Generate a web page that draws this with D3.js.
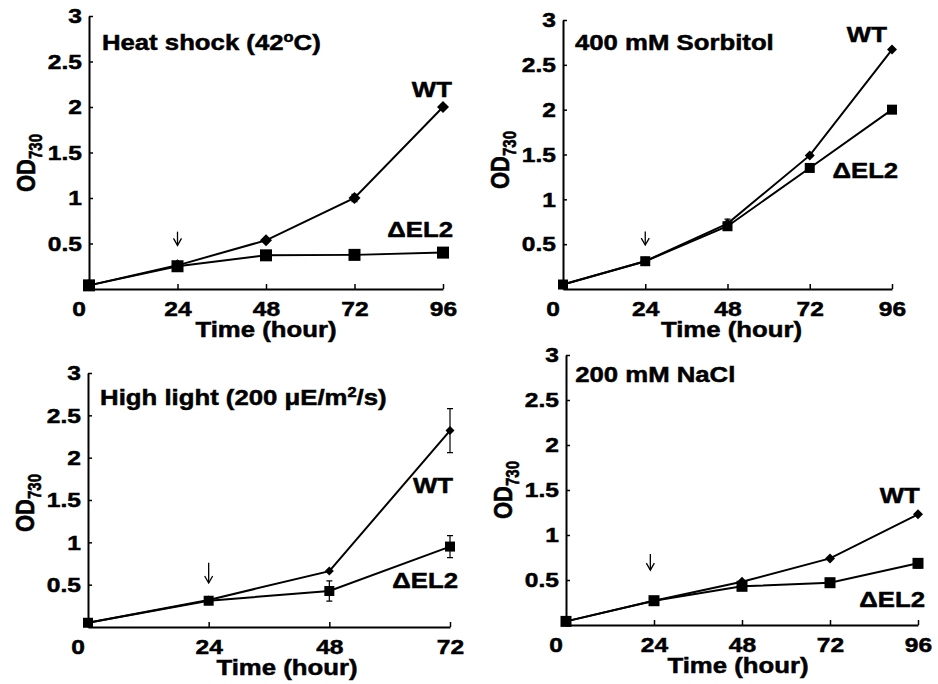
<!DOCTYPE html>
<html>
<head>
<meta charset="utf-8">
<script src="https://cdn.jsdelivr.net/npm/d3@7"></script>
<style>
  body { margin: 0; background: #fff; }
  svg text { font-family: "Liberation Sans", Arial, sans-serif; font-weight: bold; fill: #000; stroke: #000; stroke-width: 0.5px; }
</style>
</head>
<body>
<svg width="938" height="684"></svg>
<script>
// Heat shock (42oC)
const heatTime = [0, 24, 48, 72, 96];
const heatWT = [0.04, 0.26, 0.535, 1.0, 2.0];
const heatWTErr = [0, 0, 0.02, 0.04, 0.02];
const heatEL2 = [0.04, 0.25, 0.37, 0.375, 0.40];
const heatEL2Err = [0, 0, 0.01, 0.01, 0.01];

// 400 mM Sorbitol
const sorbTime = [0, 24, 48, 72, 96];
const sorbWT = [0.05, 0.31, 0.73, 1.49, 2.67];
const sorbWTErr = [0, 0, 0.05, 0.02, 0.01];
const sorbEL2 = [0.05, 0.31, 0.70, 1.35, 2.0];
const sorbEL2Err = [0, 0, 0.02, 0.02, 0.01];

// High light
const lightTime = [0, 24, 48, 72];
const lightWT = [0.05, 0.32, 0.66, 2.32];
const lightWTErr = [0, 0, 0.02, 0.26];
const lightEL2 = [0.05, 0.31, 0.425, 0.95];
const lightEL2Err = [0, 0, 0.12, 0.13];

// 200 mM NaCl
const naclTime = [0, 24, 48, 72, 96];
const naclWT = [0.04, 0.27, 0.48, 0.74, 1.23];
const naclWTErr = [0, 0, 0.01, 0.02, 0.02];
const naclEL2 = [0.04, 0.27, 0.43, 0.47, 0.685];
const naclEL2Err = [0, 0, 0.02, 0.03, 0.05];

const yTicks = [0.5, 1, 1.5, 2, 2.5, 3];
const xTicks96 = [0, 24, 48, 72, 96];
const xTicks72 = [0, 24, 48, 72];

const SX = 1.17; // chữ trong hình gốc bị kéo giãn ngang

const panels = [
    { title: ["Heat shock (42", "o", "C)"], time: heatTime, wt: heatWT, wtErr: heatWTErr, el2: heatEL2, el2Err: heatEL2Err,
      xMax: 96, xTicks: xTicks96, px: [89, 443], py: [289, 16],
      titlePos: [3.5, 2.63], wtLab: [98.4, 2.11], el2Lab: [98.7, 0.57], arrow: [24, 0.63, 0.48],
      odY: 163, timeShift: 0, sq: 12, dm: 12 },
    { title: ["400 mM Sorbitol"], time: sorbTime, wt: sorbWT, wtErr: sorbWTErr, el2: sorbEL2, el2Err: sorbEL2Err,
      xMax: 96, xTicks: xTicks96, px: [563, 892], py: [289, 20],
      titlePos: [3.5, 2.66], wtLab: [94.5, 2.75], el2Lab: [97.8, 1.24], arrow: [24, 0.64, 0.49],
      odY: 160, timeShift: 4, sq: 10, dm: 10 },
    { title: ["High light (200 μE/m", "2", "/s)"], time: lightTime, wt: lightWT, wtErr: lightWTErr, el2: lightEL2, el2Err: lightEL2Err,
      xMax: 72, xTicks: xTicks72, px: [88, 450], py: [627, 373],
      titlePos: [2.4, 2.62], wtLab: [72.6, 1.58], el2Lab: [73.6, 0.46], arrow: [24, 0.76, 0.52],
      odY: 503, timeShift: 18, sq: 10, dm: 9 },
    { title: ["200 mM NaCl"], time: naclTime, wt: naclWT, wtErr: naclWTErr, el2: naclEL2, el2Err: naclEL2Err,
      xMax: 96, xTicks: xTicks96, px: [566, 918], py: [625, 355],
      titlePos: [2.5, 2.7], wtLab: [96.5, 1.36], el2Lab: [97.9, 0.2], arrow: [23, 0.79, 0.61],
      odY: 490, timeShift: -4, sq: 11, dm: 10 }
];

const svg = d3.select("svg");

function stretchText(g, x, y, anchor) {
    return g.append("text")
        .attr("text-anchor", anchor || "start")
        .attr("transform", `translate(${x},${y}) scale(${SX},1)`);
}

panels.forEach(p => {
    const x = d3.scaleLinear().domain([0, p.xMax]).range(p.px);
    const y = d3.scaleLinear().domain([0, 3]).range(p.py);
    const g = svg.append("g");

    // Trục X
    const xAxis = g.append("g")
        .attr("transform", `translate(0,${p.py[0]})`)
        .call(d3.axisBottom(x).tickValues(p.xTicks).tickFormat(d => d).tickSizeInner(-5).tickSizeOuter(0).tickPadding(12));
    xAxis.selectAll("text")
        .style("font-size", "21px")
        .attr("transform", `scale(${SX},1)`)
        .attr("dx", d => d === 0 ? -9 : 0);

    // Trục Y
    const yAxis = g.append("g")
        .attr("transform", `translate(${p.px[0]},0)`)
        .call(d3.axisLeft(y).tickValues(yTicks).tickFormat(d => d).tickSizeInner(-4).tickSizeOuter(0).tickPadding(6));
    yAxis.selectAll("text")
        .style("font-size", "21px")
        .attr("transform", `scale(${SX},1)`);

    [xAxis, yAxis].forEach(a => {
        a.select(".domain").attr("stroke", "#000").attr("stroke-width", 2);
        a.selectAll(".tick line").attr("stroke", "#000").attr("stroke-width", 1.5);
    });

    // Tên trục
    stretchText(g, (p.px[0] + p.px[1]) / 2 + p.timeShift, p.py[0] + 48, "middle")
        .style("font-size", "22px").text("Time (hour)");

    const yl = g.append("text")
        .attr("text-anchor", "middle")
        .attr("transform", `translate(${p.px[0] - 54},${p.odY}) rotate(-90) scale(1,${SX})`)
        .style("font-size", "22px");
    yl.append("tspan").text("OD");
    yl.append("tspan").attr("dy", 6).style("font-size", "15px").text("730");

    // Tiêu đề
    const t = stretchText(g, x(p.titlePos[0]), y(p.titlePos[1])).style("font-size", "22px");
    t.append("tspan").text(p.title[0]);
    if (p.title.length > 1) {
        t.append("tspan").attr("dy", -8).style("font-size", "14px").text(p.title[1]);
        t.append("tspan").attr("dy", 8).text(p.title[2]);
    }

    // Mũi tên
    const [at, a1, a2] = p.arrow;
    g.append("line")
        .attr("x1", x(at)).attr("x2", x(at))
        .attr("y1", y(a1)).attr("y2", y(a2))
        .attr("stroke", "#000").attr("stroke-width", 1.3);
    g.append("path")
        .attr("d", `M${x(at) - 4},${y(a2) - 7} L${x(at)},${y(a2)} L${x(at) + 4},${y(a2) - 7}`)
        .attr("fill", "none").attr("stroke", "#000").attr("stroke-width", 1.3);

    // Đường, error bar, marker
    const line = d3.line().x(d => x(d.t)).y(d => y(d.v));
    const series = [
        { vals: p.wt, err: p.wtErr, shape: "diamond" },
        { vals: p.el2, err: p.el2Err, shape: "square" }
    ];
    series.forEach(s => {
        const pts = p.time.map((tt, i) => ({ t: tt, v: s.vals[i], e: s.err[i] }));
        g.append("path").datum(pts)
            .attr("d", line)
            .attr("fill", "none").attr("stroke", "#000").attr("stroke-width", 2);

        pts.filter(d => d.e > 0.03).forEach(d => {
            const cx = x(d.t);
            g.append("path")
                .attr("d", `M${cx},${y(d.v - d.e)}V${y(d.v + d.e)}M${cx - 3},${y(d.v - d.e)}H${cx + 3}M${cx - 3},${y(d.v + d.e)}H${cx + 3}`)
                .attr("fill", "none").attr("stroke", "#000").attr("stroke-width", 1.2);
        });
    });
    series.forEach(s => {
        const pts = p.time.map((tt, i) => ({ t: tt, v: s.vals[i] }));
        if (s.shape === "square") {
            g.selectAll(null).data(pts).enter().append("rect")
                .attr("x", d => x(d.t) - p.sq / 2).attr("y", d => y(d.v) - p.sq / 2)
                .attr("width", p.sq).attr("height", p.sq).attr("fill", "#000");
        } else {
            const h = p.dm / 2;
            g.selectAll(null).data(pts).enter().append("path")
                .attr("d", d => `M${x(d.t)},${y(d.v) - h}L${x(d.t) + h},${y(d.v)}L${x(d.t)},${y(d.v) + h}L${x(d.t) - h},${y(d.v)}Z`)
                .attr("fill", "#000");
        }
    });

    // Nhãn WT / ΔEL2
    stretchText(g, x(p.wtLab[0]), y(p.wtLab[1]), "end").style("font-size", "22px").text("WT");
    stretchText(g, x(p.el2Lab[0]), y(p.el2Lab[1]), "end").style("font-size", "22px").text("ΔEL2");
});
</script>
</body>
</html>
